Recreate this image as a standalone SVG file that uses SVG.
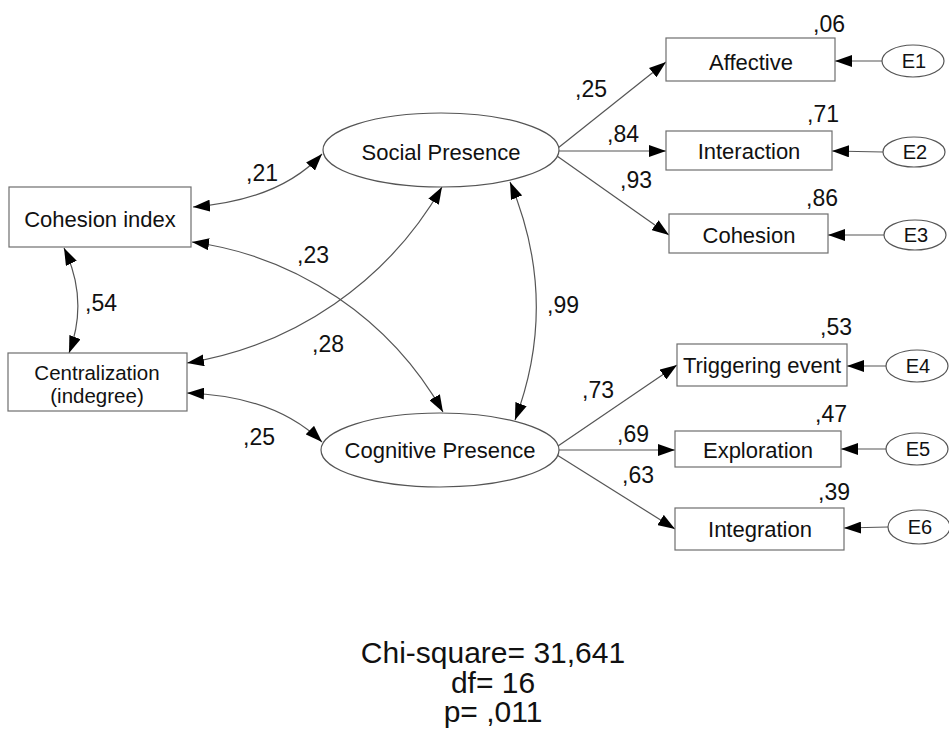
<svg xmlns="http://www.w3.org/2000/svg" width="949" height="733" viewBox="0 0 949 733">
<defs>
<marker id="ah" markerWidth="17" markerHeight="12" refX="17" refY="6" orient="auto-start-reverse" markerUnits="userSpaceOnUse"><path d="M0,0 L17,6 L0,12 z" fill="#000"/></marker>
<style>
.box{fill:#fff;stroke:#6e6e6e;stroke-width:1.2}
.ell{fill:#fff;stroke:#555;stroke-width:1.2}
.lbl{font-family:"Liberation Sans",Arial,sans-serif;font-size:22px;fill:#111;text-anchor:middle}
.lbl2{font-family:"Liberation Sans",Arial,sans-serif;font-size:20.5px;fill:#111;text-anchor:middle}
.elbl{font-family:"Liberation Sans",Arial,sans-serif;font-size:20px;fill:#111;text-anchor:middle}
.num{font-family:"Liberation Sans",Arial,sans-serif;font-size:23px;fill:#111}
.fit{font-family:"Liberation Sans",Arial,sans-serif;font-size:30px;fill:#111;text-anchor:middle}
.c{fill:none;stroke:#555;stroke-width:1.2}
.one{marker-end:url(#ah)}
.two{marker-start:url(#ah);marker-end:url(#ah)}
</style>
</defs>
<rect width="949" height="733" fill="#fff"/>
<g id="connectors">
<path class="c two" d="M193,207 Q280,200 322,154"/>
<path class="c two" d="M192,242 A341,341 0 0 1 443,412"/>
<path class="c two" d="M187,363 A359,359 0 0 0 442,187"/>
<path class="c two" d="M64,248 Q89,300 69,353"/>
<path class="c two" d="M187,393 Q275,396 322,442"/>
<path class="c two" d="M510,182 Q560,301 515,420"/>
<line class="c one" x1="558" y1="148" x2="666" y2="62"/>
<line class="c one" x1="559" y1="151" x2="666" y2="151"/>
<line class="c one" x1="557" y1="156" x2="669" y2="235"/>
<line class="c one" x1="558" y1="446" x2="677" y2="365"/>
<line class="c one" x1="559" y1="450" x2="675" y2="450"/>
<line class="c one" x1="557" y1="455" x2="675" y2="529"/>
<line class="c one" x1="882" y1="61" x2="835" y2="61"/>
<line class="c one" x1="883" y1="152" x2="832" y2="151"/>
<line class="c one" x1="884" y1="235" x2="828" y2="235"/>
<line class="c one" x1="886" y1="366" x2="847" y2="366"/>
<line class="c one" x1="887" y1="449" x2="841" y2="449"/>
<line class="c one" x1="888" y1="527" x2="844" y2="528"/>
</g>
<g id="cohesion-index"><rect class="box" x="9" y="187" width="182" height="60"/><text class="lbl" x="100" y="227">Cohesion index</text></g>
<g id="centralization"><rect class="box" x="8" y="353" width="179" height="58"/><text class="lbl2" x="97" y="380">Centralization</text><text class="lbl2" x="97" y="403">(indegree)</text></g>
<g id="social-presence"><ellipse class="ell" cx="441" cy="150" rx="118" ry="37"/><text class="lbl" x="441" y="160">Social Presence</text></g>
<g id="cognitive-presence"><ellipse class="ell" cx="440" cy="450" rx="119" ry="37"/><text class="lbl" x="440" y="458">Cognitive Presence</text></g>
<g id="affective"><rect class="box" x="666" y="38" width="169" height="43"/><text class="lbl" x="751" y="70">Affective</text></g>
<g id="interaction"><rect class="box" x="666" y="131" width="166" height="39"/><text class="lbl" x="749" y="159">Interaction</text></g>
<g id="cohesion"><rect class="box" x="669" y="214" width="159" height="39"/><text class="lbl" x="749" y="243">Cohesion</text></g>
<g id="triggering"><rect class="box" x="677" y="344" width="170" height="42"/><text class="lbl" x="762" y="373">Triggering event</text></g>
<g id="exploration"><rect class="box" x="675" y="431" width="166" height="36"/><text class="lbl" x="758" y="458">Exploration</text></g>
<g id="integration"><rect class="box" x="675" y="508" width="169" height="42"/><text class="lbl" x="760" y="537">Integration</text></g>
<g id="e1"><ellipse class="ell" cx="913" cy="61" rx="31" ry="16"/><text class="elbl" x="914" y="68">E1</text></g>
<g id="e2"><ellipse class="ell" cx="914" cy="152" rx="31" ry="15"/><text class="elbl" x="915" y="159">E2</text></g>
<g id="e3"><ellipse class="ell" cx="915" cy="235" rx="31" ry="15"/><text class="elbl" x="916" y="242">E3</text></g>
<g id="e4"><ellipse class="ell" cx="917" cy="366" rx="31" ry="16"/><text class="elbl" x="918" y="373">E4</text></g>
<g id="e5"><ellipse class="ell" cx="917" cy="449" rx="31" ry="16"/><text class="elbl" x="918" y="456">E5</text></g>
<g id="e6"><ellipse class="ell" cx="919" cy="527" rx="31" ry="17"/><text class="elbl" x="920" y="534">E6</text></g>
<g id="labels">
<text class="num" x="246" y="181">,21</text>
<text class="num" x="297" y="263">,23</text>
<text class="num" x="85" y="311">,54</text>
<text class="num" x="312" y="352">,28</text>
<text class="num" x="243" y="445">,25</text>
<text class="num" x="547" y="313">,99</text>
<text class="num" x="575" y="97">,25</text>
<text class="num" x="607" y="142">,84</text>
<text class="num" x="620" y="188">,93</text>
<text class="num" x="582" y="398">,73</text>
<text class="num" x="617" y="442">,69</text>
<text class="num" x="622" y="483">,63</text>
<text class="num" x="813" y="32">,06</text>
<text class="num" x="807" y="122">,71</text>
<text class="num" x="806" y="206">,86</text>
<text class="num" x="820" y="335">,53</text>
<text class="num" x="815" y="422">,47</text>
<text class="num" x="818" y="500">,39</text>
</g>
<g id="fit">
<text class="fit" x="493" y="663">Chi-square= 31,641</text>
<text class="fit" x="493" y="693">df= 16</text>
<text class="fit" x="493" y="722">p= ,011</text>
</g>
</svg>
